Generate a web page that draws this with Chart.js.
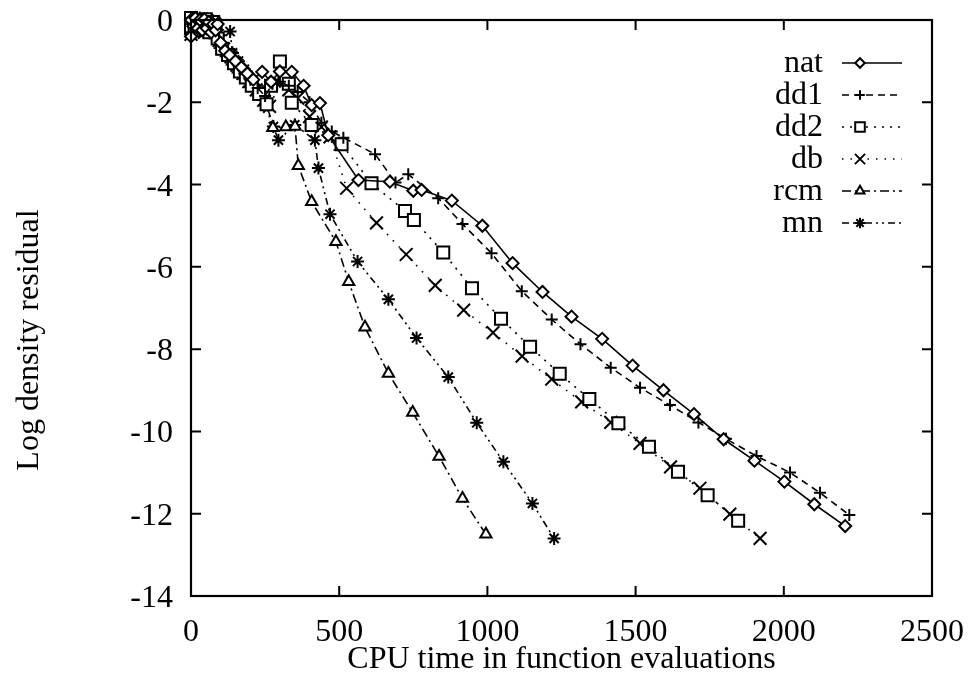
<!DOCTYPE html>
<html><head><meta charset="utf-8">
<script src="https://cdn.jsdelivr.net/npm/chart.js@4.4.0/dist/chart.umd.min.js"></script>
<style>html,body{margin:0;padding:0;background:#fff}</style>
</head><body>
<canvas id="c" width="972" height="682"></canvas>
<script>
// ---- data ----
const seriesLabels = ["nat", "dd1", "dd2", "db", "rcm", "mn"];
const xTicks = [0, 500, 1000, 1500, 2000, 2500];
const yTicks = [0, -2, -4, -6, -8, -10, -12, -14];

const natX = [0, 0, 8, 15, 23, 30, 38, 45, 53, 60, 68, 75, 83, 90, 100, 115, 130, 150, 170, 190, 210, 240, 270, 300, 340, 380, 407, 435, 463, 565, 671, 750, 778, 880, 983, 1085, 1186, 1284, 1387, 1490, 1594, 1697, 1797, 1901, 2002, 2103, 2207];
const natY = [-0.4, 0, -0.15, 0.05, -0.2, 0, -0.25, 0.02, -0.2, -0.05, -0.3, -0.1, -0.25, -0.1, -0.55, -0.75, -0.85, -1.0, -1.15, -1.3, -1.45, -1.26, -1.5, -1.25, -1.26, -1.6, -2.07, -2.02, -2.8, -3.89, -3.93, -4.15, -4.13, -4.39, -5.0, -5.91, -6.61, -7.21, -7.75, -8.40, -9.0, -9.58, -10.19, -10.71, -11.22, -11.77, -12.30];

const dd1X = [0, 0, 10, 20, 30, 40, 48, 55, 63, 70, 78, 85, 100, 120, 140, 160, 180, 200, 225, 250, 275, 300, 330, 360, 400, 440, 475, 514, 621, 690, 733, 834, 916, 1014, 1116, 1217, 1314, 1416, 1515, 1616, 1712, 1805, 1908, 2021, 2122, 2221];
const dd1Y = [-0.3, 0, -0.1, 0.02, -0.25, 0, -0.15, -0.05, -0.3, 0, -0.2, -0.15, -0.6, -0.75, -0.95, -1.1, -1.3, -1.45, -1.65, -1.85, -1.55, -1.5, -1.6, -1.75, -2.0, -2.5, -2.71, -2.86, -3.26, -3.95, -3.75, -4.33, -4.96, -5.67, -6.59, -7.28, -7.88, -8.45, -8.94, -9.36, -9.78, -10.18, -10.6, -11.0, -11.49, -12.03];

const dd2X = [0, 0, 12, 25, 37, 50, 62, 75, 82, 90, 105, 125, 145, 165, 185, 205, 230, 255, 270, 300, 315, 330, 340, 407, 508, 609, 722, 752, 851, 948, 1046, 1144, 1244, 1344, 1442, 1545, 1643, 1743, 1846];
const dd2Y = [-0.2, 0.05, -0.25, 0, -0.15, 0.02, -0.3, -0.05, -0.2, -0.45, -0.7, -0.85, -1.05, -1.25, -1.4, -1.6, -1.8, -2.05, -1.6, -1.01, -1.4, -1.55, -2.01, -2.55, -3.02, -3.97, -4.64, -4.86, -5.65, -6.52, -7.26, -7.94, -8.6, -9.21, -9.8, -10.37, -10.98, -11.55, -12.17];

const dbX = [0, 10, 22, 35, 45, 55, 67, 80, 95, 110, 135, 155, 175, 195, 220, 245, 265, 300, 330, 360, 400, 440, 469, 525, 626, 726, 824, 920, 1019, 1117, 1217, 1318, 1416, 1515, 1618, 1717, 1818, 1920];
const dbY = [-0.35, 0, -0.2, 0.03, -0.3, -0.02, -0.25, -0.1, -0.5, -0.7, -0.9, -1.1, -1.3, -1.5, -1.7, -1.95, -2.1, -1.55, -1.7, -1.9, -2.35, -2.6, -2.84, -4.09, -4.93, -5.70, -6.45, -7.05, -7.60, -8.17, -8.73, -9.28, -9.78, -10.29, -10.86, -11.38, -12.01, -12.60];

const rcmX = [0, 5, 18, 30, 40, 50, 60, 70, 80, 90, 100, 120, 140, 160, 180, 200, 225, 250, 276, 320, 351, 362, 407, 489, 532, 587, 666, 748, 837, 916, 995];
const rcmY = [-0.25, 0, -0.3, 0.02, -0.2, -0.03, -0.3, -0.1, -0.25, -0.3, -0.6, -0.8, -1.0, -1.2, -1.35, -1.55, -1.75, -2.0, -2.62, -2.6, -2.59, -3.54, -4.42, -5.39, -6.36, -7.47, -8.59, -9.54, -10.61, -11.63, -12.50];

const mnX = [0, 20, 33, 45, 55, 65, 75, 85, 132, 140, 160, 180, 205, 230, 250, 278, 295, 350, 418, 430, 469, 562, 666, 761, 868, 964, 1054, 1152, 1225];
const mnY = [-0.3, 0.02, -0.25, 0, -0.3, -0.05, -0.35, -0.2, -0.28, -0.8, -1.0, -1.2, -1.45, -1.7, -1.95, -2.59, -2.92, -2.55, -2.92, -3.6, -4.72, -5.87, -6.79, -7.73, -8.68, -9.79, -10.74, -11.75, -12.60];

const xTitle = "CPU time in function evaluations";
const yTitle = "Log density residual";

// ---- build ----
const FONT = "'Liberation Serif', 'Times New Roman', serif";
const FS = 32;
function pts(xs, ys) { return xs.map((x, i) => ({ x: x, y: ys[i] })); }

const styles = [
  { pointStyle: 'rectRot', radius: 6, dash: [] },
  { pointStyle: 'cross', radius: 6, dash: [7, 5] },
  { pointStyle: 'rect', radius: 8.5, dash: [2, 6] },
  { pointStyle: 'crossRot', radius: 9, dash: [1.5, 7] },
  { pointStyle: 'triangle', radius: 6.5, dash: [9, 4, 2, 4] },
  { pointStyle: 'star', radius: 6.5, dash: [7, 4, 2, 4, 2, 4] }
];
const allX = [natX, dd1X, dd2X, dbX, rcmX, mnX];
const allY = [natY, dd1Y, dd2Y, dbY, rcmY, mnY];

const datasets = seriesLabels.map((lab, i) => ({
  label: lab,
  data: pts(allX[i], allY[i]),
  borderColor: '#000',
  borderWidth: 1.6,
  borderDash: styles[i].dash,
  pointStyle: styles[i].pointStyle,
  pointRadius: styles[i].radius,
  pointBorderWidth: 2,
  pointBorderColor: '#000',
  pointBackgroundColor: '#fff',
  tension: 0,
  fill: false,
  clip: false
}));

const framePlugin = {
  id: 'frame',
  afterDraw(chart) {
    const ctx = chart.ctx, a = chart.chartArea;
    const xs = chart.scales.x, ys = chart.scales.y;
    ctx.save();
    ctx.strokeStyle = '#000';
    ctx.lineWidth = 2.2;
    ctx.setLineDash([]);
    ctx.strokeRect(a.left, a.top, a.right - a.left, a.bottom - a.top);
    ctx.lineWidth = 2;
    const L = 10;
    ctx.beginPath();
    xTicks.forEach(v => {
      const px = xs.getPixelForValue(v);
      ctx.moveTo(px, a.bottom); ctx.lineTo(px, a.bottom - L);
      ctx.moveTo(px, a.top); ctx.lineTo(px, a.top + L);
    });
    yTicks.forEach(v => {
      const py = ys.getPixelForValue(v);
      ctx.moveTo(a.left, py); ctx.lineTo(a.left + L, py);
      ctx.moveTo(a.right, py); ctx.lineTo(a.right - L, py);
    });
    ctx.stroke();

    ctx.fillStyle = '#000';
    ctx.font = FS + 'px ' + FONT;
    // tick labels
    ctx.textAlign = 'center';
    ctx.textBaseline = 'alphabetic';
    xTicks.forEach(v => {
      ctx.fillText(String(v), xs.getPixelForValue(v), a.bottom + 45);
    });
    ctx.textAlign = 'right';
    yTicks.forEach(v => {
      ctx.fillText(String(v), a.left - 18, ys.getPixelForValue(v) + 11);
    });

    // axis titles
    ctx.textAlign = 'center';
    ctx.fillText(xTitle, (a.left + a.right) / 2, 668);
    ctx.save();
    ctx.translate(30, 340);
    ctx.rotate(-Math.PI / 2);
    ctx.textBaseline = 'middle';
    ctx.fillText(yTitle, 0, 0);
    ctx.restore();

    // legend
    chart.data.datasets.forEach((ds, i) => {
      const y = 63 + 32 * i;
      ctx.textAlign = 'right';
      ctx.textBaseline = 'alphabetic';
      ctx.fillStyle = '#000';
      ctx.fillText(ds.label, 823, y + 9);
      ctx.beginPath();
      ctx.lineWidth = 1.6;
      ctx.setLineDash(ds.borderDash);
      ctx.moveTo(842, y); ctx.lineTo(902, y);
      ctx.stroke();
      ctx.setLineDash([]);
      ctx.lineWidth = 2;
      ctx.fillStyle = '#fff';
      Chart.helpers.drawPoint(ctx, { pointStyle: ds.pointStyle, radius: ds.pointRadius * 0.8, rotation: 0, borderWidth: 2 }, 860, y);
    });
    ctx.restore();
  }
};

new Chart(document.getElementById('c'), {
  type: 'line',
  data: { datasets: datasets },
  options: {
    responsive: false,
    animation: false,
    devicePixelRatio: 1,
    layout: { padding: { top: 20, right: 40, left: 0, bottom: 0 } },
    plugins: { legend: { display: false }, tooltip: { enabled: false } },
    scales: {
      x: {
        type: 'linear', min: 0, max: 2500,
        afterBuildTicks: s => { s.ticks = xTicks.map(v => ({ value: v })); },
        ticks: { display: false },
        grid: { display: false, drawTicks: false },
        border: { display: false },
        afterFit: s => { s.height = 86; }
      },
      y: {
        type: 'linear', min: -14, max: 0,
        afterBuildTicks: s => { s.ticks = yTicks.map(v => ({ value: v })); },
        ticks: { display: false },
        grid: { display: false, drawTicks: false },
        border: { display: false },
        afterFit: s => { s.width = 191; }
      }
    }
  },
  plugins: [framePlugin]
});
</script>
</body></html>
